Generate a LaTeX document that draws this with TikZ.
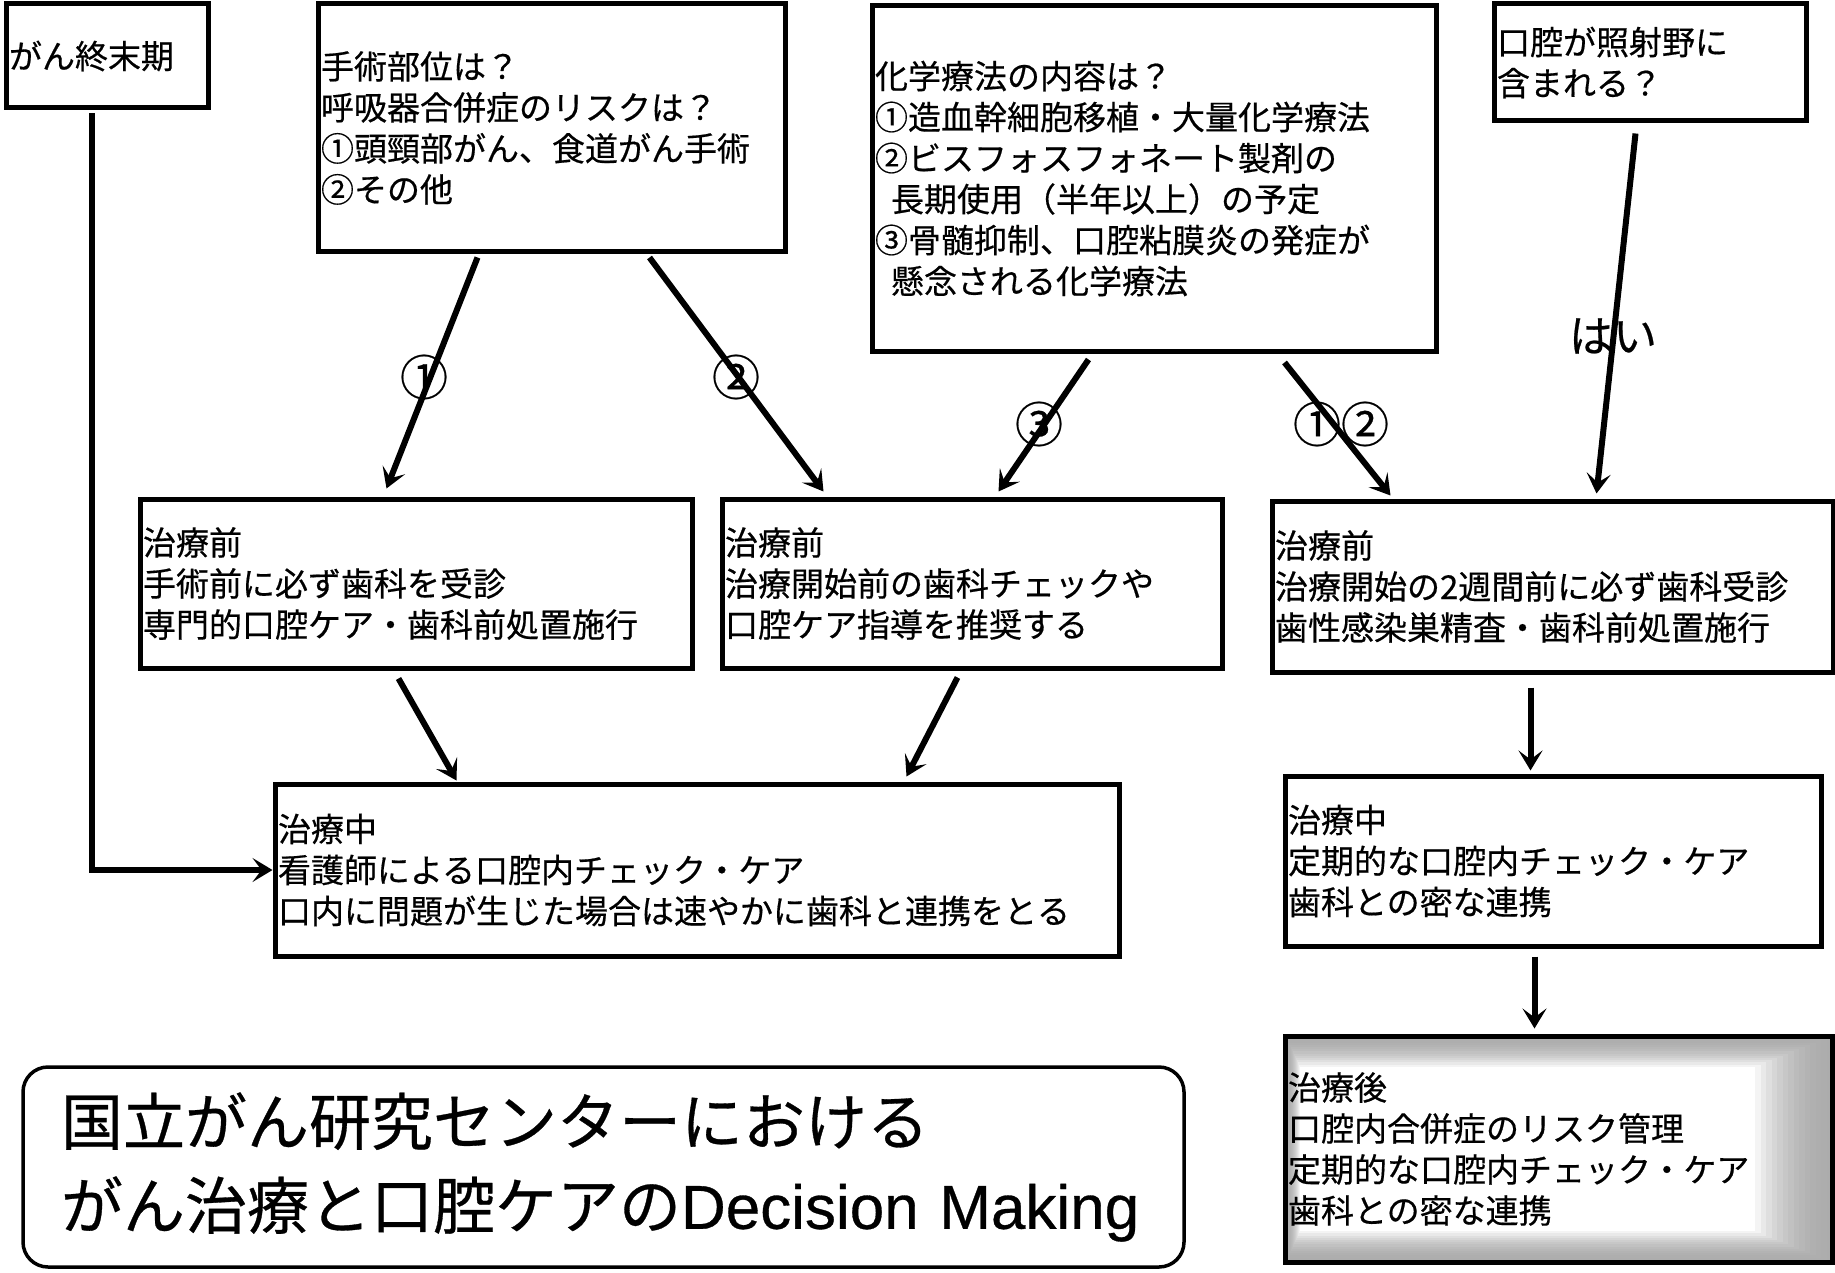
\documentclass[tikz,border=0pt]{standalone}
\usepackage{fontspec}
\setmainfont[FakeBold=0.5]{Noto Sans CJK JP}
\newfontfamily\latinf[FakeBold=0.5]{Liberation Sans}
\usetikzlibrary{arrows.meta,calc}
\begin{document}
\begin{tikzpicture}[x=1pt,y=-1pt,
  box/.style={draw, line width=5pt, inner sep=3pt, align=left, anchor=center,
              font=\fontsize{33}{41}\selectfont},
  arr/.style={line width=6pt, -{Stealth[length=20pt,width=24pt,inset=9pt]}},
  lab/.style={font=\fontsize{48}{48}\selectfont, inner sep=0pt},
  titlebox/.style={draw, line width=3.5pt, rounded corners=25pt, align=left,
              inner xsep=38pt, font=\fontsize{62}{84}\selectfont},
  grayedge/.style={path picture={
      \foreach \i in {0,...,14} {
        \pgfmathsetmacro\shade{65*(1-(\i/14)^2)}
        \fill[gray!\shade!white]
          ([xshift=\i*1.1pt, yshift=-\i*2.2pt]path picture bounding box.north west)
          rectangle
          ([xshift=-\i*5.5pt, yshift=\i*2.2pt]path picture bounding box.south east);
      }}}]
\useasboundingbox (0,0) rectangle (1835,1273);

% top row
\node[box, minimum width=202pt, minimum height=104pt, text width=196pt] (A) at (107,56) {がん終末期};
\node[box, minimum width=467pt, minimum height=248pt, text width=461pt] (B) at (551.5,128)
  {手術部位は？\\呼吸器合併症のリスクは？\\①頭頸部がん、食道がん手術\\②その他};
\node[box, minimum width=564pt, minimum height=345pt, text width=558pt] (C) at (1154,178.5)
  {化学療法の内容は？\\①造血幹細胞移植・大量化学療法\\②ビスフォスフォネート製剤の\\\hspace*{16pt}長期使用（半年以上）の予定\\③骨髄抑制、口腔粘膜炎の発症が\\\hspace*{16pt}懸念される化学療法};
\node[box, minimum width=312pt, minimum height=117pt, text width=306pt] (D) at (1650,62.5)
  {口腔が照射野に\\含まれる？};

% middle row
\node[box, minimum width=552pt, minimum height=169pt, text width=546pt] (E) at (416,583.5)
  {治療前\\手術前に必ず歯科を受診\\専門的口腔ケア・歯科前処置施行};
\node[box, minimum width=500pt, minimum height=169pt, text width=494pt] (F) at (972,583.5)
  {治療前\\治療開始前の歯科チェックや\\口腔ケア指導を推奨する};
\node[box, minimum width=561pt, minimum height=171pt, text width=555pt] (G) at (1552.5,586.5)
  {治療前\\治療開始の2週間前に必ず歯科受診\\歯性感染巣精査・歯科前処置施行};

% lower rows
\node[box, minimum width=844pt, minimum height=172pt, text width=838pt] (H) at (697,870)
  {治療中\\看護師による口腔内チェック・ケア\\口内に問題が生じた場合は速やかに歯科と連携をとる};
\node[box, minimum width=536pt, minimum height=170pt, text width=530pt] (I) at (1553,861)
  {治療中\\定期的な口腔内チェック・ケア\\歯科との密な連携};
\node[box, grayedge, minimum width=547pt, minimum height=226pt, text width=541pt] (J) at (1558.5,1149)
  {治療後\\口腔内合併症のリスク管理\\定期的な口腔内チェック・ケア\\歯科との密な連携};

% title
\node[titlebox, minimum width=1161pt, minimum height=200pt, text width=1085pt] (T) at (603.5,1167)
  {国立がん研究センターにおける\\がん治療と口腔ケアの{\latinf Decision Making}};

% connectors
\draw[arr] ([xshift=162pt,yshift=-3pt]B.south west) -- ([xshift=249pt,yshift=8pt]E.north west);
\draw[arr] ([xshift=334pt,yshift=-3pt]B.south west) -- ([xshift=104pt,yshift=5pt]F.north west);
\draw[arr] ([xshift=219pt,yshift=-6pt]C.south west) -- ([xshift=279pt,yshift=5pt]F.north west);
\draw[arr] ([xshift=415pt,yshift=-9pt]C.south west) -- ([xshift=121pt,yshift=3pt]G.north west);
\draw[arr] ([xshift=144pt,yshift=-10pt]D.south west) -- ([xshift=327pt,yshift=5pt]G.north west);
\draw[arr] ([xshift=261pt,yshift=-8pt]E.south west) -- ([xshift=184pt,yshift=1pt]H.north west);
\draw[arr] ([xshift=238pt,yshift=-7pt]F.south west) -- ([xshift=634pt,yshift=5pt]H.north west);
\draw[arr] ([xshift=88pt,yshift=-3pt]A.south west) |- (H.west);
\draw[arr] ([xshift=261pt,yshift=-13pt]G.south west) -- ([xshift=248pt,yshift=3pt]I.north west);
\draw[arr] ([xshift=252pt,yshift=-8pt]I.south west) -- ([xshift=252pt,yshift=5pt]J.north west);

% labels
\node[lab] (l1) at (424,377) {①};
\node[lab] (l2) at (736,377) {②};
\node[lab] (l3) at (1039,424) {③};
\node[lab] (l12) at (1341,424) {①②};
\node[lab, font=\fontsize{44}{44}\selectfont] (lyes) at (1613,336) {はい};
\end{tikzpicture}
\end{document}
